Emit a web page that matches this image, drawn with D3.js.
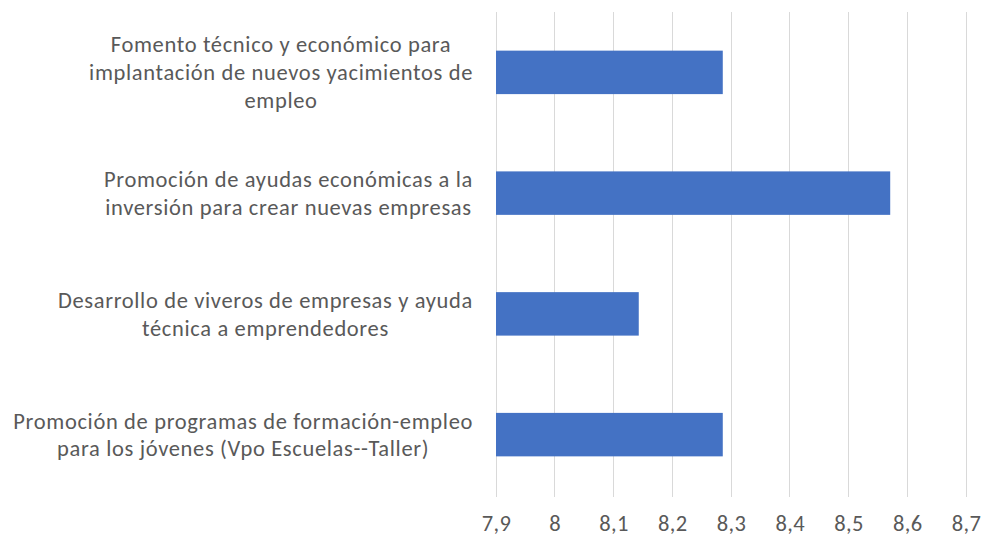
<!DOCTYPE html>
<html>
<head>
<meta charset="utf-8">
<script src="https://cdn.jsdelivr.net/npm/d3@7"></script>
<style>
  html, body { margin: 0; padding: 0; background: #fff; }
  svg { display: block; }
  text { font-family: Carlito, Calibri, Lato, "Open Sans", sans-serif; fill: #595959; }
</style>
</head>
<body>
<svg id="chart" width="984" height="538"></svg>
<script>
// ---- data ----
const categories = [
  ["Fomento técnico y económico para", "implantación de nuevos yacimientos de", "empleo"],
  ["Promoción de ayudas económicas a la", "inversión para crear nuevas empresas"],
  ["Desarrollo de viveros de empresas y ayuda", "técnica a emprendedores"],
  ["Promoción de programas de formación-empleo", "para los jóvenes (Vpo Escuelas--Taller)"]
];
const values = [8.286, 8.571, 8.143, 8.286];
const xTicks = [7.9, 8.0, 8.1, 8.2, 8.3, 8.4, 8.5, 8.6, 8.7];
const xDomain = [7.9, 8.7];

// ---- layout ----
const svg = d3.select("#chart");
const plotL = 496, plotR = 966, plotT = 12, plotB = 495;
const labelFont = 22.5, tickFont = 22.5, lineH = 27.8;

const x = d3.scaleLinear().domain(xDomain).range([plotL, plotR]);
const keys = categories.map((c, i) => "c" + i);
const y = d3.scaleBand().domain(keys).range([plotT, plotB])
  .paddingInner(0.64).paddingOuter(0.32);

// gridlines
svg.append("g").selectAll("line").data(xTicks).join("line")
  .attr("x1", d => x(d)).attr("x2", d => x(d))
  .attr("y1", plotT).attr("y2", plotB + 2)
  .attr("stroke", "#d9d9d9").attr("stroke-width", 1)
  .attr("shape-rendering", "crispEdges");

// bars
svg.append("g").selectAll("rect").data(values).join("rect")
  .attr("x", x(xDomain[0]))
  .attr("y", (d, i) => y(keys[i]))
  .attr("width", d => x(d) - x(xDomain[0]))
  .attr("height", y.bandwidth())
  .attr("fill", "#4472C4");

// x axis tick labels
const xAxis = d3.axisBottom(x).tickValues(xTicks).tickSize(0)
  .tickFormat(d => d3.format(".1~f")(d).replace(".", ","));
const gx = svg.append("g").attr("transform", `translate(0,${plotB})`).call(xAxis);
gx.select(".domain").remove();
gx.selectAll("text").attr("font-size", tickFont).attr("dy", null).attr("y", 36)
  .attr("letter-spacing", 0.4)
  .style("font-family", "Carlito, Calibri, Lato, 'Open Sans', sans-serif").attr("fill", "#595959");

// category labels (multi-line, centered in a block right-aligned to the plot)
const labelRight = 473;
categories.forEach((lines, i) => {
  const cy = y(keys[i]) + y.bandwidth() / 2;
  const g = svg.append("g");
  const t = g.append("text").attr("font-size", labelFont).attr("text-anchor", "middle")
    .attr("letter-spacing", 0.65);
  const n = lines.length;
  lines.forEach((ln, j) => {
    t.append("tspan").attr("x", 0)
      .attr("y", cy + (j - (n - 1) / 2) * lineH)
      .attr("dy", "0.35em").text(ln);
  });
  let w = 0;
  t.selectAll("tspan").each(function () { w = Math.max(w, this.getComputedTextLength()); });
  t.selectAll("tspan").attr("x", labelRight - w / 2);
});
</script>
</body>
</html>
